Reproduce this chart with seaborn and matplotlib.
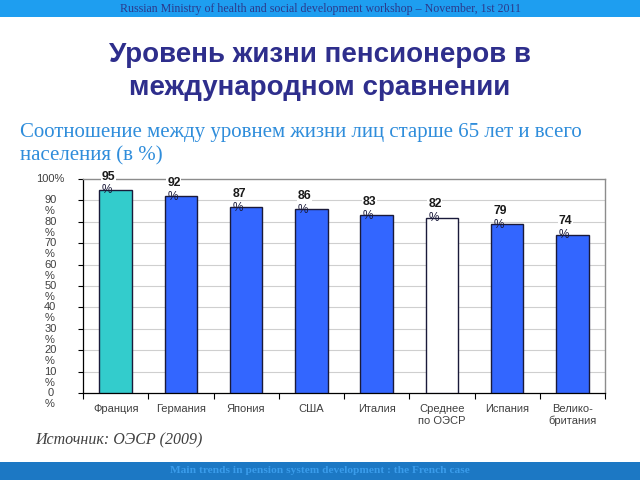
import matplotlib
matplotlib.use("Agg")
import matplotlib.pyplot as plt
import seaborn as sns
import pandas as pd
from matplotlib.patches import Rectangle
from matplotlib.transforms import blended_transform_factory, offset_copy

categories = ["Франция", "Германия", "Япония", "США", "Италия",
              "Среднее\nпо ОЭСР", "Испания", "Велико-\nбритания"]
values = [95, 92, 87, 86, 83, 82, 79, 74]
bar_colors = ["#33CCCC", "#3366FF", "#3366FF", "#3366FF", "#3366FF",
              "#FFFFFF", "#3366FF", "#3366FF"]
ytick_vals = [0, 10, 20, 30, 40, 50, 60, 70, 80, 90, 100]
ytick_labels = ["0", "10", "20", "30", "40", "50", "60", "70", "80", "90", "100%"]

title = "Уровень жизни пенсионеров в\nмеждународном сравнении"
subtitle = "Соотношение между уровнем жизни лиц старше 65 лет и всего\nнаселения (в %)"
source = "Источник: ОЭСР (2009)"
header = "Russian Ministry of health and social development workshop – November, 1st 2011"
footer = "Main trends in pension system development : the French case"

sns.set_style("white")
plt.rcParams["font.family"] = ["Liberation Sans", "DejaVu Sans"]

fig = plt.figure(figsize=(6.4, 4.8), dpi=100)
fig.patch.set_facecolor("white")

# header / footer bands
fig.patches.append(Rectangle((0, 1 - 17 / 480), 1, 17 / 480, transform=fig.transFigure,
                             facecolor="#1E9EF0", edgecolor="none", zorder=0))
fig.patches.append(Rectangle((0, 0), 1, 18 / 480, transform=fig.transFigure,
                             facecolor="#1C78C4", edgecolor="none", zorder=0))
fig.text(0.5, 1 - 9 / 480, header, ha="center", va="center", fontsize=8.6,
         family=["Liberation Serif"], color="#2B3A8C")
fig.text(0.5, 9.5 / 480, footer, ha="center", va="center", fontsize=8.2,
         family=["Liberation Serif"], color="#3A9CEB", fontweight="bold")

fig.text(0.5, 1 - 71.5 / 480, title, ha="center", va="center", fontsize=20,
         fontweight="bold", color="#2E2E8C", linespacing=1.33)
fig.text(20 / 640, 1 - 144.5 / 480, subtitle, ha="left", va="center", fontsize=15,
         family=["Liberation Serif"], color="#2F8DDB", linespacing=1.3)
fig.text(35 / 640, 1 - 440 / 480, source, ha="left", va="center", fontsize=11.5,
         family=["Liberation Serif"], style="italic", color="#404040")

ax = fig.add_axes([83 / 640, 1 - 393 / 480, 522 / 640, 214 / 480])
df = pd.DataFrame({"cat": categories, "val": values})
sns.barplot(data=df, x="cat", y="val", hue="cat", palette=bar_colors, legend=False,
            saturation=1, width=0.5, edgecolor="#1a1a3a", linewidth=1.0, ax=ax, zorder=3)

ax.set_ylim(0, 100)
ax.set_xlim(-0.5, len(categories) - 0.5)
ax.set_xlabel("")
ax.set_ylabel("")
ax.set_yticks(ytick_vals)
ax.set_yticklabels(ytick_labels, ha="center", va="center", color="#404040", fontsize=8)
ax.tick_params(axis="y", length=3.5, pad=20, width=0.8, color="black", direction="out", left=True)

# the "%" that wraps under each y tick number
trans = blended_transform_factory(ax.transAxes, ax.transData)
trans_pct = offset_copy(trans, fig=fig, x=-33, y=-11, units="dots")
for yv, lab in zip(ytick_vals, ytick_labels):
    if not lab.endswith("%"):
        ax.text(0, yv, "%", transform=trans_pct, ha="center", va="center",
                fontsize=8, color="#404040", clip_on=False)

ax.set_xticks(range(len(categories)))
ax.set_xticklabels(categories, fontsize=8, color="#404040")
ax.tick_params(axis="x", length=0, pad=8, bottom=True)
ax.set_xticks([i - 0.5 for i in range(len(categories) + 1)], minor=True)
ax.tick_params(axis="x", which="minor", length=4, width=0.8, color="black", bottom=True)

for y in range(10, 100, 10):
    ax.axhline(y, color="#CFCFCF", lw=0.8, zorder=1)
for side in ["top", "right"]:
    ax.spines[side].set_color("#8C8C8C")
    ax.spines[side].set_linewidth(1.0)
for side in ["left", "bottom"]:
    ax.spines[side].set_color("black")
    ax.spines[side].set_linewidth(0.9)

for i, v in enumerate(values):
    ax.annotate(str(v), (i, v), xytext=(-5, 9.5), textcoords="offset points",
                ha="center", va="center", fontsize=8.8, fontweight="bold", color="#1a1a1a",
                bbox=dict(facecolor="white", edgecolor="none", pad=0.5), zorder=5)
    ax.annotate("%", (i, v), xytext=(-6, -0.5), textcoords="offset points",
                ha="center", va="center", fontsize=8.5, color="#1a1a3a", zorder=6)

fig.savefig("out.png", dpi=100)
